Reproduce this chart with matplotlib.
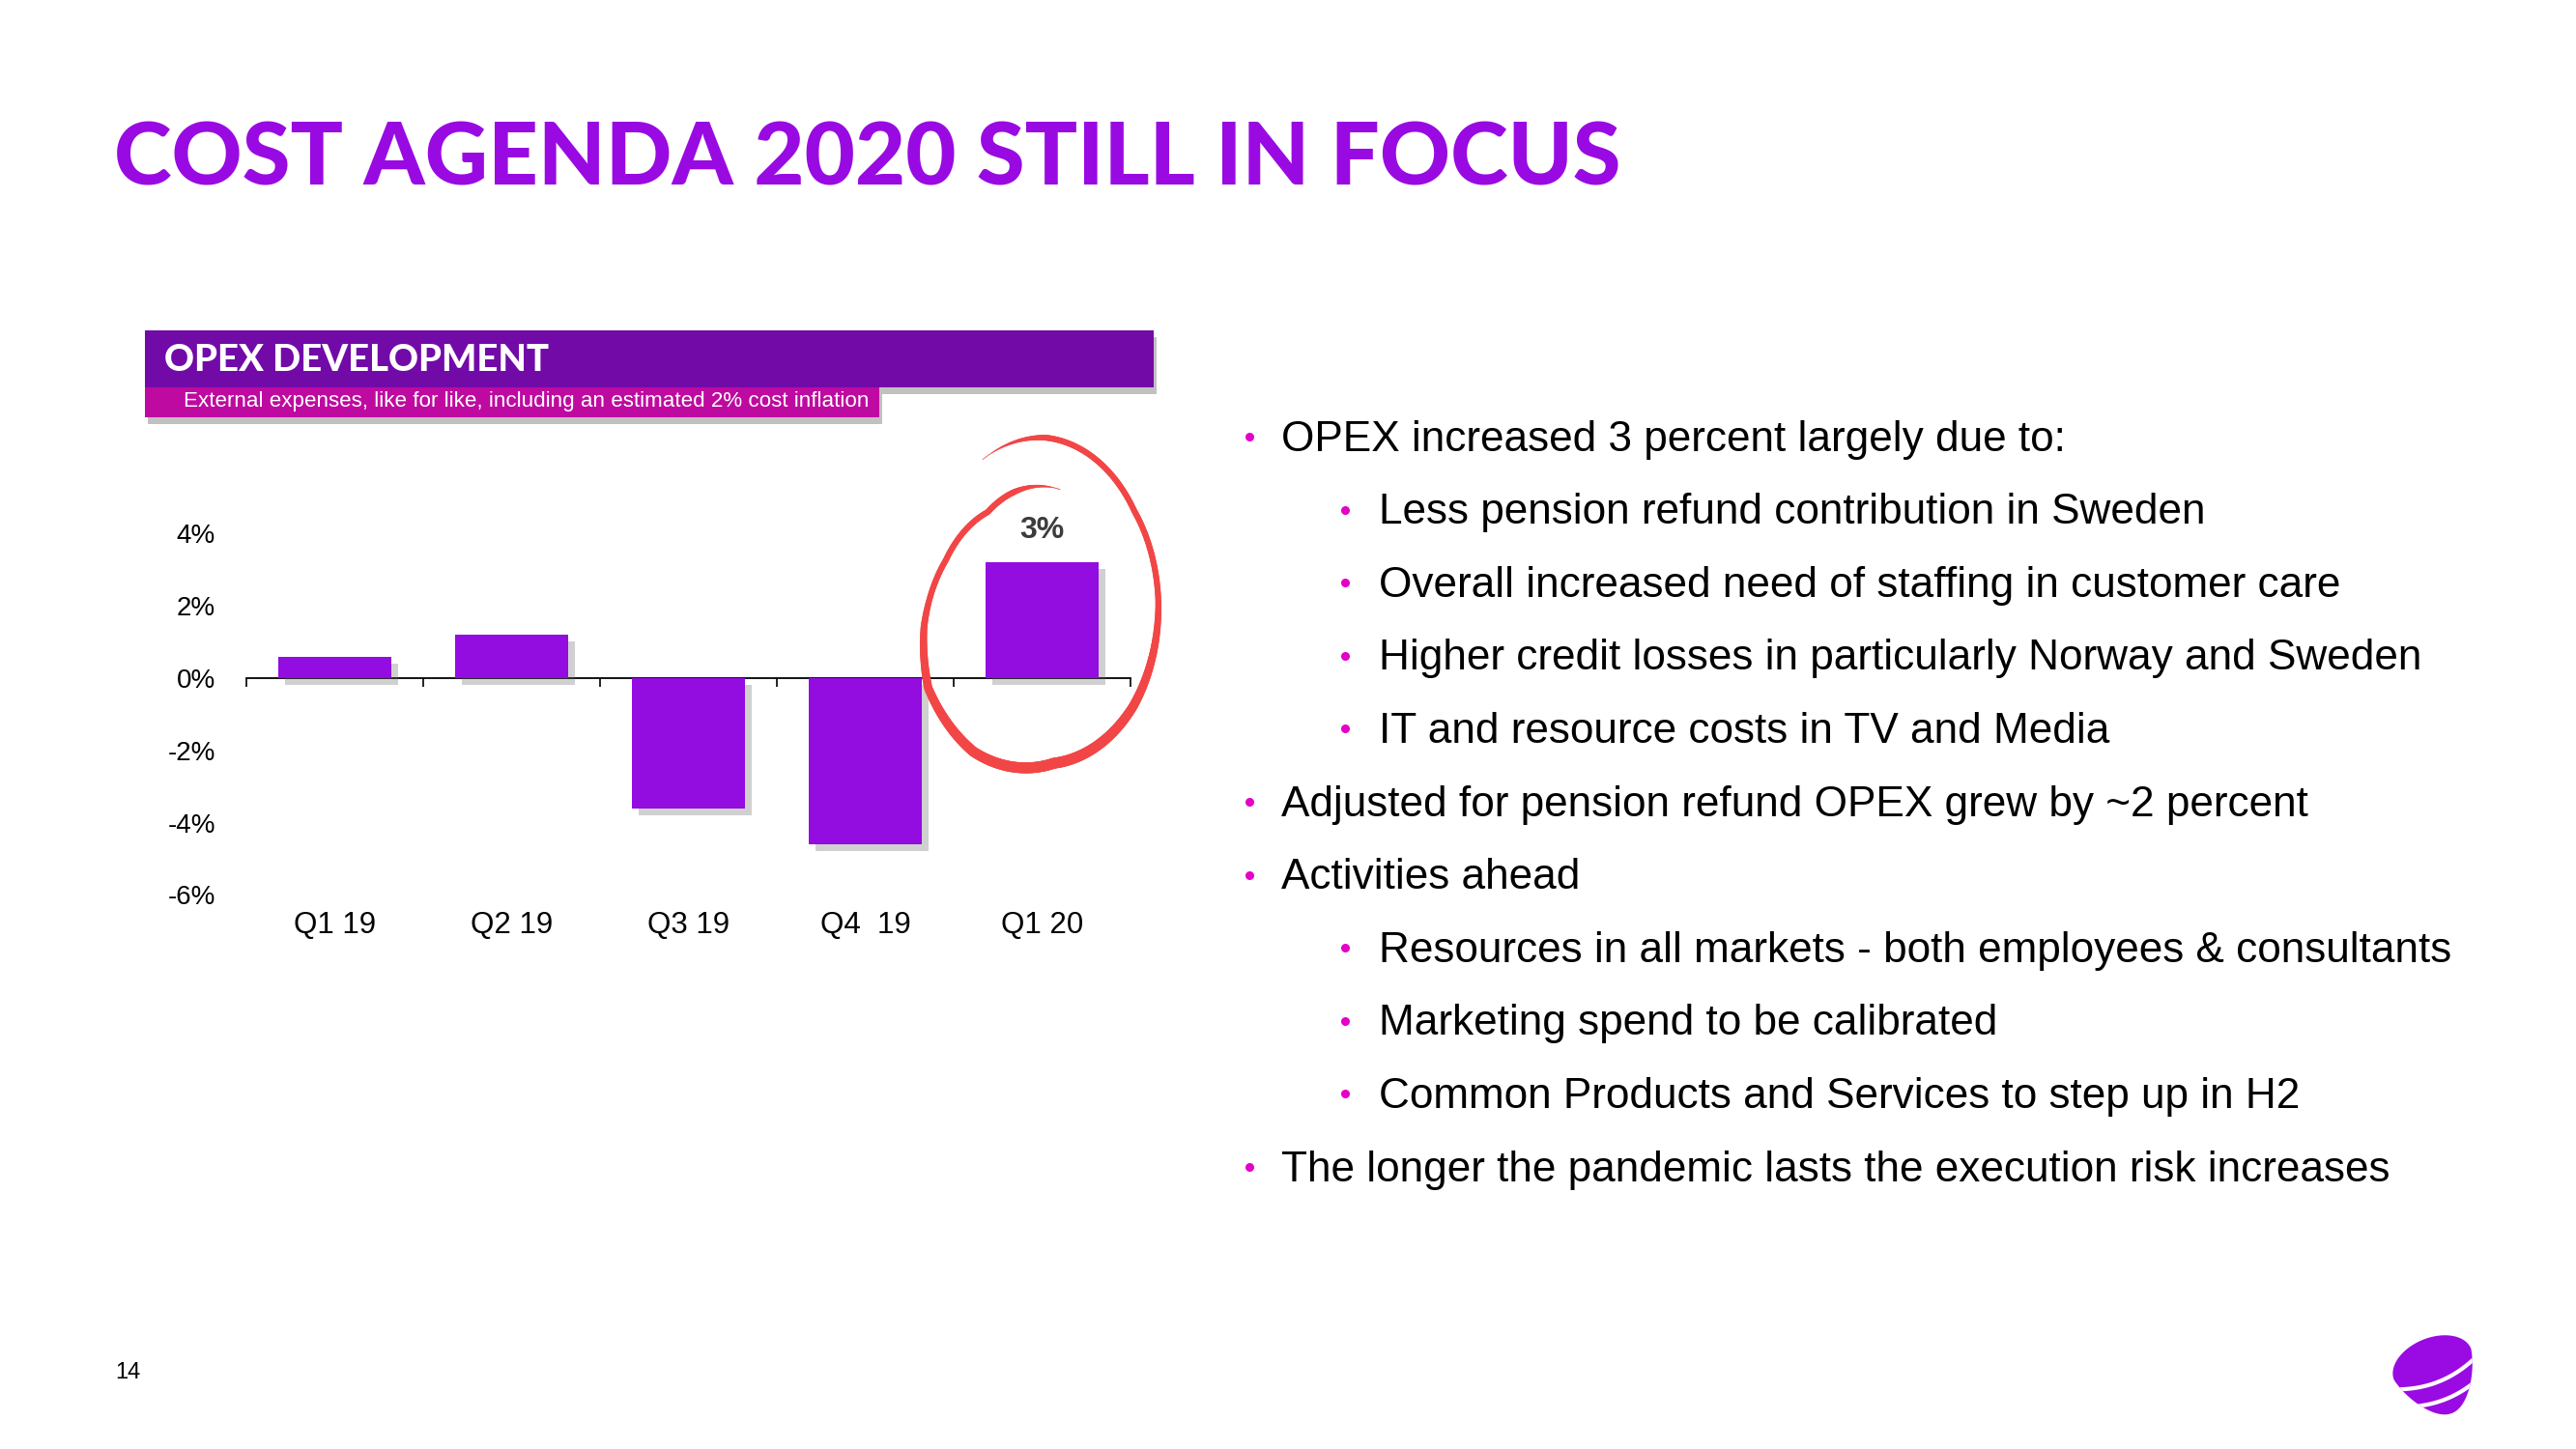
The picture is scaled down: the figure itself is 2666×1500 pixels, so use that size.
import numpy as np
import matplotlib
matplotlib.use("Agg")
import matplotlib.pyplot as plt
from matplotlib import patheffects as pe
from matplotlib.patches import Rectangle, Polygon
from matplotlib.collections import LineCollection
from matplotlib.lines import Line2D

# chart data
quarters = ["Q1 19", "Q2 19", "Q3 19", "Q4  19", "Q1 20"]
opex_change = [0.6, 1.2, -3.6, -4.6, 3.2]
y_ticks = [4, 2, 0, -2, -4, -6]

title = "COST AGENDA 2020 STILL IN FOCUS"
box_title = "OPEX DEVELOPMENT"
box_sub = "External expenses, like for like, including an estimated 2% cost inflation"
bullets = [
    (1, "OPEX increased 3 percent largely due to:"),
    (2, "Less pension refund contribution in Sweden"),
    (2, "Overall increased need of staffing in customer care"),
    (2, "Higher credit losses in particularly Norway and Sweden"),
    (2, "IT and resource costs in TV and Media"),
    (1, "Adjusted for pension refund OPEX grew by ~2 percent"),
    (1, "Activities ahead"),
    (2, "Resources in all markets - both employees & consultants"),
    (2, "Marketing spend to be calibrated"),
    (2, "Common Products and Services to step up in H2"),
    (1, "The longer the pandemic lasts the execution risk increases"),
]
page_no = "14"

PURPLE = "#990AE3"
BAR = "#930CE0"
DARK_PURPLE = "#720AA8"
MAGENTA = "#BE0AA0"
PINK = "#E400C8"
RING = "#F24646"

plt.rcParams["font.family"] = ["Liberation Sans", "DejaVu Sans"]

W, H = 2666, 1500
def fx(x):
    return x / W
def fy(y):
    return 1 - y / H

fig = plt.figure(figsize=(W / 100, H / 100), dpi=100)
fig.patch.set_facecolor("white")

# title
fig.text(fx(118), fy(166), title, color=PURPLE, fontsize=65, fontweight="black",
         family=["Lato", "DejaVu Sans"], ha="left", va="center")

# header boxes
shadow = [pe.withSimplePatchShadow(offset=(2, -5), shadow_rgbFace="#777777", alpha=0.45)]
hdr = Rectangle((fx(150), fy(401)), fx(1194) - fx(150), (401 - 342) / H,
                transform=fig.transFigure, facecolor=DARK_PURPLE, edgecolor="none",
                path_effects=shadow)
fig.add_artist(hdr)
sub = Rectangle((fx(150), fy(432)), fx(910) - fx(150), (432 - 401) / H,
                transform=fig.transFigure, facecolor=MAGENTA, edgecolor="none",
                path_effects=shadow)
fig.add_artist(sub)
fig.text(fx(170), fy(373), box_title, color="white", fontsize=27.5, fontweight="black",
         family=["Lato", "DejaVu Sans"], ha="left", va="center")
fig.text(fx(190), fy(416), box_sub, color="white", fontsize=16.1, ha="left", va="center")

# bar chart
ax = fig.add_axes([fx(255), fy(926.4), fx(1170) - fx(255), (926.4 - 552.4) / H])
x = np.arange(len(quarters))
bars = ax.bar(x, opex_change, width=0.64, color=BAR, zorder=2)
for b in bars:
    b.set_path_effects([pe.withSimplePatchShadow(offset=(5, -5), shadow_rgbFace="#666666", alpha=0.3),
                        pe.Normal()])
ax.set_xlim(-0.5, len(quarters) - 0.5)
ax.set_ylim(-6, 4)
for s in ax.spines.values():
    s.set_visible(False)
ax.set_yticks(y_ticks)
ax.set_yticklabels([f"{v}%" for v in y_ticks], fontsize=20)
ax.set_xticks(x)
ax.set_xticklabels(quarters, fontsize=22.5)
ax.tick_params(axis="y", length=0, pad=23)
ax.tick_params(axis="x", length=0, pad=12)

zero = ax.secondary_xaxis(0, transform=ax.transData)
zero.set_xticks(np.arange(len(quarters) + 1) - 0.5)
zero.set_xticklabels([])
zero.tick_params(length=6.5, width=1.2, direction="out", color="black")
zero.spines["bottom"].set_linewidth(1.3)
for k in ["top", "left", "right"]:
    if k in zero.spines:
        zero.spines[k].set_visible(False)

ax.annotate(f"{round(opex_change[-1])}%", xy=(x[-1], opex_change[-1]), xytext=(0, 24),
            textcoords="offset points", ha="center", va="center", fontsize=23,
            fontweight="bold", color="#3C3C3C")

# hand drawn ring around the last bar
ring_ang = np.array([120, 88, 35, 0, -40, -84, -122, -151, -171, -197, -230, -283])
ring_rad = np.array([1.0, 1.0, 0.96, 0.99, 1.01, 1.0, 1.09, 1.10, 1.01, 0.85, 0.71, 0.70])
t = np.linspace(120, -283, 500)
r = np.interp(-t, -ring_ang, ring_rad)
cx, cy, ra, rb = 1078, 622, 122, 169
px = cx + ra * r * np.cos(np.radians(t))
py = cy - rb * r * np.sin(np.radians(t))
pts = np.column_stack([fx(px), fy(py)])
segs = np.stack([pts[:-1], pts[1:]], axis=1)
s = np.linspace(0, 1, len(segs))
taper = np.clip(np.minimum(s, 1 - s) / 0.08, 0.12, 1)
bottom = np.clip(-np.sin(np.radians(t[:-1])), 0, 1)
widths = (4.4 + 3.8 * bottom) * taper
lc = LineCollection(segs, linewidths=widths, colors=RING, capstyle="round",
                    transform=fig.transFigure)
fig.add_artist(lc)

# bullet text
y0, dy = 455, 75.6
for i, (lvl, txt) in enumerate(bullets):
    yy = y0 + i * dy
    bx = 1293 if lvl == 1 else 1392
    tx = 1326 if lvl == 1 else 1427
    fig.add_artist(Line2D([fx(bx)], [fy(yy - 3)], marker="o", markersize=6.5, color=PINK,
                          markeredgewidth=0, transform=fig.transFigure))
    fig.text(fx(tx), fy(yy), txt, fontsize=31.8, color="black", ha="left", va="center")

# page number
fig.text(fx(132), fy(1421), page_no, fontsize=17, color="black", ha="center", va="center")

# logo
lax = fig.add_axes([fx(2470), fy(1470), fx(2565) - fx(2470), (1470 - 1370) / H])
lax.set_xlim(-1.05, 1.05)
lax.set_ylim(-1.15, 1.05)
lax.axis("off")
th = np.linspace(0, 2 * np.pi, 300)
up = np.sin(th) > 0
ex = 0.95 * np.cos(th) * np.where(up, 1.0, 1 - 0.25 * (-np.sin(th)))
ey = np.where(up, 0.6 * np.sin(th), 1.2 * np.sin(th))
rot = np.radians(22)
lx = ex * np.cos(rot) - ey * np.sin(rot)
ly = ex * np.sin(rot) + ey * np.cos(rot) + 0.12
egg = Polygon(np.column_stack([lx, ly]), closed=True, facecolor="#9A0BE3", edgecolor="none")
lax.add_patch(egg)
for off in [-0.12, -0.55]:
    sx = np.linspace(-1.2, 1.2, 100)
    sy = off - 0.3 * (1 - (sx / 1.2) ** 2)
    rx = sx * np.cos(rot) - sy * np.sin(rot)
    ry = sx * np.sin(rot) + sy * np.cos(rot) + 0.12
    ln, = lax.plot(rx, ry, color="white", lw=3.0, solid_capstyle="butt")
    ln.set_clip_path(egg)

fig.savefig("out.png", dpi=100, facecolor="white")
